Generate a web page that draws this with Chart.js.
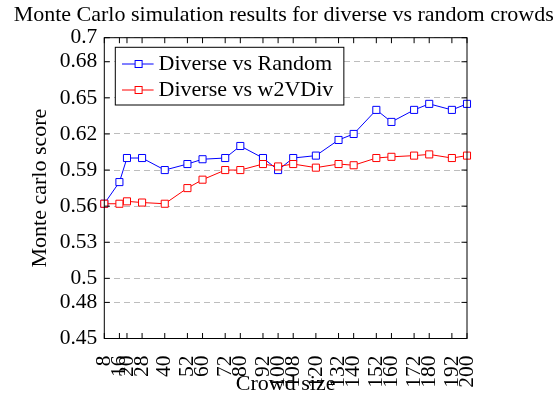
<!DOCTYPE html>
<html>
<head>
<meta charset="utf-8">
<title>Monte Carlo simulation results</title>
<script src="https://cdn.jsdelivr.net/npm/chart.js@4.4.0/dist/chart.umd.min.js"></script>
<style>
  html, body { margin: 0; padding: 0; background: #fff; }
  #mc { display: block; }
</style>
</head>
<body>
<canvas id="mc" width="559" height="396"></canvas>
<script>
const crowdSize = [8, 16, 20, 28, 40, 52, 60, 72, 80, 92, 100, 108, 120, 132, 140, 152, 160, 172, 180, 192, 200];
const diverseVsRandom = [0.562, 0.580, 0.600, 0.600, 0.590, 0.595, 0.599, 0.600, 0.610, 0.600, 0.590,
                         0.600, 0.602, 0.615, 0.620, 0.640, 0.630, 0.640, 0.645, 0.640, 0.645];
const diverseVsW2VDiv = [0.562, 0.562, 0.564, 0.563, 0.562, 0.575, 0.582, 0.590, 0.590, 0.595, 0.593,
                         0.595, 0.592, 0.595, 0.594, 0.600, 0.601, 0.602, 0.603, 0.600, 0.602];
const scoreTicks = [0.45, 0.48, 0.5, 0.53, 0.56, 0.59, 0.62, 0.65, 0.68, 0.7];
const seriesNames = ['Diverse vs Random', 'Diverse vs w2VDiv'];
const seriesColors = ['#0000ff', '#ff0000'];

const serif = "'Liberation Serif', 'Times New Roman', serif";

function points(values) {
    return crowdSize.map((x, i) => ({x: x, y: values[i]}));
}

// box round the plot with the tick marks pointing inwards on all four sides
const axisBox = {
    id: 'axisBox',
    afterDatasetsDraw(chart) {
        const {ctx, chartArea: a, scales: {x, y}} = chart;
        const len = 5.5;
        ctx.save();
        ctx.strokeStyle = '#000';
        ctx.lineWidth = 1;
        ctx.beginPath();
        x.ticks.forEach(t => {
            const px = x.getPixelForValue(t.value);
            ctx.moveTo(px, a.bottom); ctx.lineTo(px, a.bottom - len);
            ctx.moveTo(px, a.top); ctx.lineTo(px, a.top + len);
        });
        y.ticks.forEach(t => {
            const py = y.getPixelForValue(t.value);
            ctx.moveTo(a.left, py); ctx.lineTo(a.left + len, py);
            ctx.moveTo(a.right, py); ctx.lineTo(a.right - len, py);
        });
        ctx.stroke();
        ctx.strokeRect(a.left, a.top, a.right - a.left, a.bottom - a.top);
        ctx.restore();
    }
};

// legend in a framed white box, top left inside the plot
const boxedLegend = {
    id: 'boxedLegend',
    afterDraw(chart) {
        const {ctx, chartArea: a} = chart;
        const left = a.left + 11, top = a.top + 9.6;
        const rowH = 26;
        ctx.save();
        ctx.font = '22px ' + serif;
        const textW = Math.max(...chart.data.datasets.map(d => ctx.measureText(d.label).width));
        const w = 43.3 + textW + 10.5, h = 57.7;
        ctx.fillStyle = '#fff';
        ctx.fillRect(left, top, w, h);
        ctx.strokeStyle = '#000';
        ctx.lineWidth = 1;
        ctx.strokeRect(left, top, w, h);
        chart.data.datasets.forEach((ds, i) => {
            const ly = top + 16.7 + i * rowH;
            ctx.strokeStyle = ds.borderColor;
            ctx.beginPath();
            ctx.moveTo(left + 6.7, ly);
            ctx.lineTo(left + 38.3, ly);
            ctx.stroke();
            ctx.fillStyle = '#fff';
            ctx.fillRect(left + 23.3 - 3.5, ly - 3.5, 7, 7);
            ctx.strokeRect(left + 23.3 - 3.5, ly - 3.5, 7, 7);
            ctx.fillStyle = '#000';
            ctx.textBaseline = 'alphabetic';
            ctx.fillText(ds.label, left + 43.3, top + 22.7 + i * rowH);
        });
        ctx.restore();
    }
};

new Chart(document.getElementById('mc'), {
    type: 'line',
    data: {
        datasets: [
            {label: seriesNames[0], data: points(diverseVsRandom), borderColor: seriesColors[0], pointBorderColor: seriesColors[0], order: 1},
            {label: seriesNames[1], data: points(diverseVsW2VDiv), borderColor: seriesColors[1], pointBorderColor: seriesColors[1], order: 0}
        ]
    },
    options: {
        responsive: false,
        animation: false,
        devicePixelRatio: 1,
        datasets: {
            line: {
                borderWidth: 1,
                tension: 0,
                pointStyle: 'rect',
                pointRadius: 5,
                pointBorderWidth: 1,
                pointBackgroundColor: '#fff',
                clip: false
            }
        },
        layout: {padding: {left: 8.4, right: 0, top: 0, bottom: 0}},
        plugins: {
            legend: {display: false},
            tooltip: {enabled: false},
            title: {
                display: true,
                text: 'Monte Carlo simulation results for diverse vs random crowds',
                color: '#000',
                font: {family: serif, size: 22, weight: 'normal'},
                padding: {top: 2, bottom: 9.3}
            }
        },
        scales: {
            x: {
                type: 'linear',
                min: 8,
                max: 200,
                afterBuildTicks: s => { s.ticks = crowdSize.map(v => ({value: v})); },
                afterFit: s => { s.height = 57.5; },
                grid: {display: false},
                border: {display: false},
                ticks: {
                    autoSkip: false,
                    minRotation: 90,
                    maxRotation: 90,
                    padding: 9,
                    color: '#000',
                    font: {family: serif, size: 21.5},
                    callback: v => String(v)
                },
                title: {
                    display: true,
                    text: 'Crowd size',
                    color: '#000',
                    font: {family: serif, size: 22, lineHeight: 1},
                    padding: {top: 0, bottom: 1}
                }
            },
            y: {
                min: 0.45,
                max: 0.7,
                afterBuildTicks: s => { s.ticks = scoreTicks.map(v => ({value: v})); },
                afterFit: s => { s.width = 95.9; },
                grid: {color: '#bdbdbd', lineWidth: 1, drawTicks: false},
                border: {display: false, dash: [6, 4]},
                ticks: {
                    padding: 7,
                    color: '#000',
                    font: {family: serif, size: 21.5},
                    callback: v => String(v)
                },
                title: {
                    display: true,
                    text: 'Monte carlo score',
                    color: '#000',
                    font: {family: serif, size: 22},
                    padding: {top: 19, bottom: 0}
                }
            },
            // empty right-hand axis, only keeps the space right of the plot
            yRight: {
                position: 'right',
                afterFit: s => { s.width = 92; },
                grid: {display: false},
                border: {display: false},
                ticks: {display: false}
            }
        }
    },
    plugins: [axisBox, boxedLegend]
});
</script>
</body>
</html>
